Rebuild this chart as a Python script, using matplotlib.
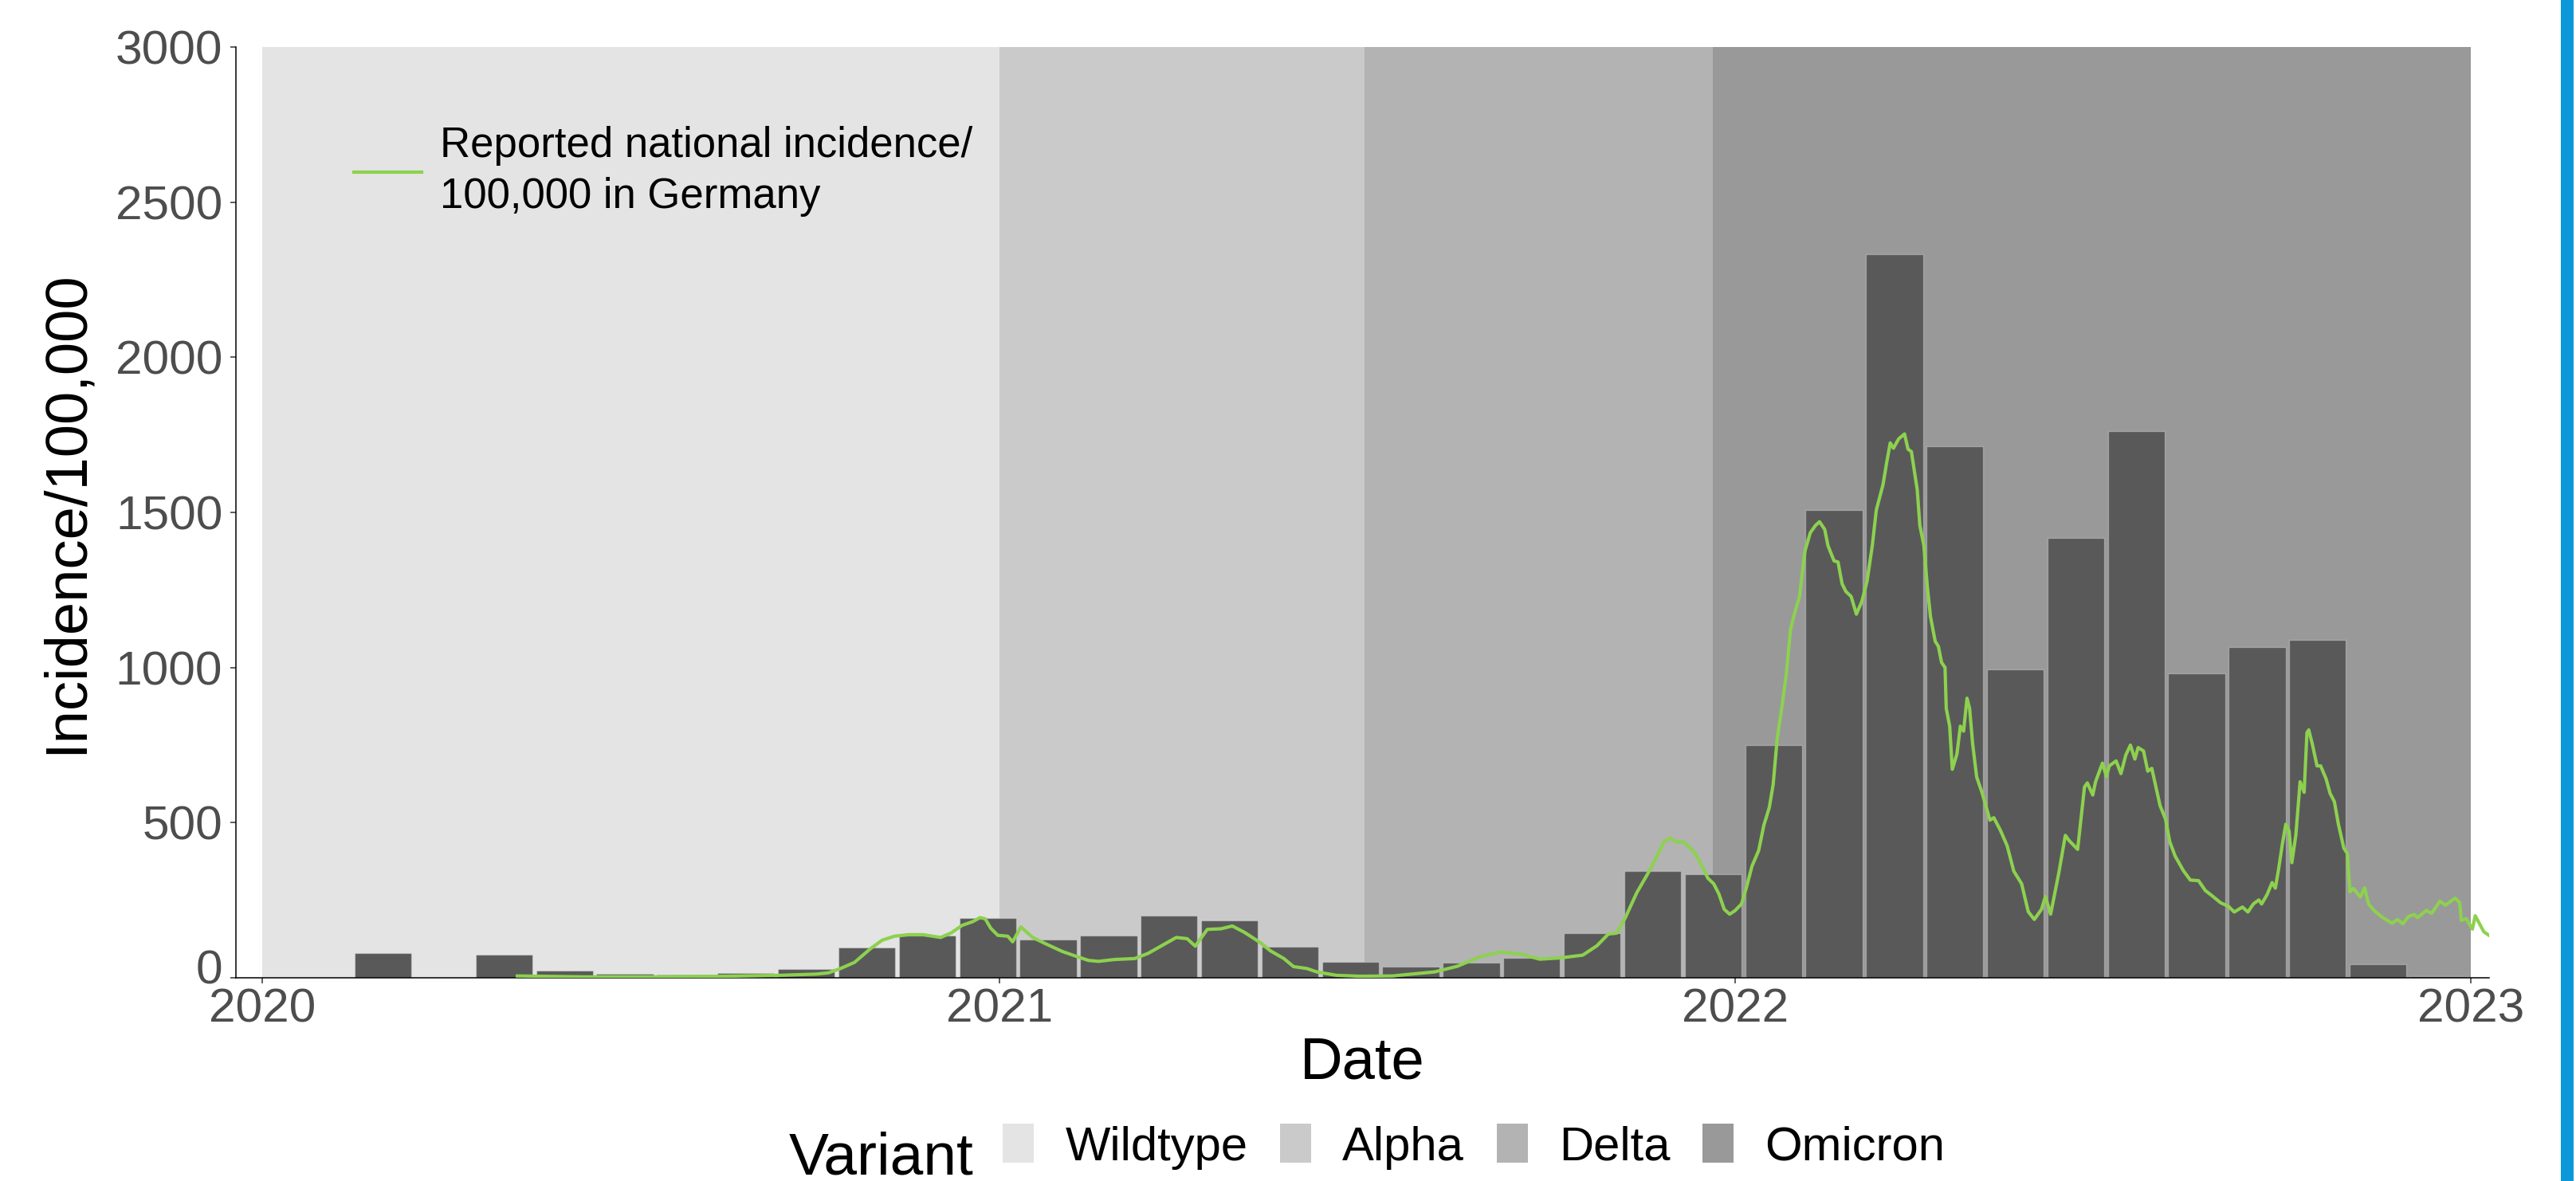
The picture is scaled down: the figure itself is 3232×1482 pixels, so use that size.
import numpy as np
import pandas as pd
import matplotlib
matplotlib.use('Agg')
import matplotlib.pyplot as plt
import matplotlib.dates as mdates
from matplotlib.patches import Patch, Rectangle
from matplotlib.transforms import ScaledTranslation

plt.rcParams['font.family'] = ['Liberation Sans', 'DejaVu Sans']

# variant periods (background shading)
variant_names = ['Wildtype', 'Alpha', 'Delta', 'Omicron']
variant_start = ['2020-01-01', '2021-01-01', '2021-07-01', '2021-12-21']
variant_end = ['2021-01-01', '2021-07-01', '2021-12-21', '2023-01-01']
variant_colors = ['#e4e4e4', '#cacaca', '#b3b3b3', '#999999']

# 30-day bins of incidence/100,000, first bin centred on 2020-01-01
bin_first = '2020-01-01'
bin_values = [0, 0, 80, 0, 75, 24, 14, 9, 15, 27,
              97, 137, 193, 123, 135, 200, 185, 100, 52, 37,
              50, 65, 145, 344, 334, 749, 1507, 2333, 1714, 995,
              1419, 1761, 981, 1067, 1090, 44, 6]

# reported national incidence (days since 2020-01-01, value)
inc_day = [126.6, 160, 195, 231, 257, 275, 281, 287, 294, 301.5,
           307.6, 313.7, 320.8, 327.9, 336.7, 342, 347.3, 352.6, 356.2, 358.8,
           361.5, 365, 370, 372.4, 376.5, 382.3, 389, 397, 403.6, 410,
           415, 423, 433, 439.7, 446, 453.6, 459, 463, 469, 475.8,
           481.4, 487.3, 495.4, 500.3, 507, 511.8, 518.4, 523.3, 533, 544.6,
           561, 581.8, 593, 604.4, 614.3, 624.2, 634, 644, 655.3, 662.3,
           668, 672.2, 676.4, 682.1, 687.8, 692, 695.5, 698.8, 701.9, 705.4,
           710.4, 713.2, 717.4, 720.3, 722.9, 725.5, 728.2, 730.8, 734.1, 736.7,
           739.3, 742.6, 745.2, 747.9, 749.8, 751.8, 754.4, 756.4, 758.4, 760.3,
           762.9, 765.6, 768.2, 770.8, 772.8, 775.4, 777, 780, 782, 784,
           785.9, 788.5, 791.1, 793.8, 796.4, 799, 801, 804.3, 806.2, 807.9,
           809.5, 812.1, 815, 816.7, 818.4, 821.3, 822.6, 824.6, 826.3, 827.9,
           830.2, 831.8, 833.4, 835.1, 835.7, 837.4, 838.7, 841, 842.7, 844.3,
           846, 847.3, 848.8, 850.8, 853.4, 857.4, 859.3, 862.6, 865.9, 869.2,
           873.1, 876.4, 879.4, 883, 884.9, 887.5, 891.5, 894.8, 896.7, 900.9,
           904.3, 905.7, 908.4, 909.8, 913.2, 915.2, 916.6, 920, 922.4, 924.8,
           927.1, 929.3, 930.9, 933.6, 935.7, 937.7, 941.8, 944.5, 946.6, 949.3,
           953.4, 956.8, 960.9, 964.3, 967.7, 971.8, 975.8, 978.6, 982.7, 985.4,
           988.1, 990.8, 992.2, 994.9, 997.4, 999, 1000.6, 1002.4, 1004.2, 1005.8,
           1007.2, 1009.2, 1011.3, 1013.3, 1014.7, 1015.6, 1017.4, 1019.7, 1021.5, 1024.2,
           1026.2, 1028.3, 1030.3, 1033, 1034.7, 1036, 1037.8, 1041.2, 1043.3, 1045.3,
           1048, 1052.1, 1056.9, 1059.6, 1062.3, 1065, 1067.8, 1069.6, 1073.9, 1076.6,
           1080.7, 1083.4, 1088.2, 1090.5, 1091.3, 1093.7, 1096.8, 1098.2, 1102.5, 1105]
inc_value = [6, 3, 3, 5, 8, 12, 16, 30, 50, 92,
             121, 134, 139, 139, 130, 145, 169, 181, 194, 190,
             160, 137, 134, 116, 164, 130, 109, 85, 70, 56,
             53, 59, 62, 79, 102, 130, 126, 102, 156, 158,
             167, 147, 113, 87, 62, 36, 30, 19, 8, 5,
             6, 19, 37, 68, 83, 77, 60, 64, 73, 103,
             141, 144, 193, 274, 338, 390, 438, 450, 438, 438,
             407, 377, 321, 303, 270, 221, 205, 216, 238, 295,
             360, 410, 492, 549, 623, 770, 885, 983, 1122, 1172,
             1229, 1376, 1434, 1458, 1470, 1445, 1393, 1344, 1340, 1270,
             1245, 1229, 1172, 1213, 1278, 1393, 1508, 1589, 1663, 1724,
             1707, 1737, 1753, 1704, 1696, 1573, 1458, 1393, 1262, 1163,
             1085, 1068, 1016, 1000, 868, 811, 672, 721, 811, 795,
             901, 868, 754, 647, 598, 508, 516, 475, 426, 344,
             303, 213, 188, 221, 262, 205, 336, 459, 442, 414,
             615, 628, 589, 632, 692, 649, 683, 699, 658, 718,
             750, 705, 742, 731, 666, 675, 555, 512, 439, 392,
             345, 315, 313, 281, 264, 242, 230, 212, 228, 212,
             238, 251, 238, 268, 307, 289, 349, 427, 495, 474,
             371, 461, 632, 598, 790, 799, 752, 683, 683, 641,
             594, 568, 495, 418, 401, 277, 288, 260, 290, 238,
             217, 195, 176, 188, 174, 197, 204, 194, 217, 208,
             247, 234, 257, 242, 185, 191, 157, 200, 148, 137]

W, H = 3232, 1482
fig = plt.figure(figsize=(W / 100, H / 100), dpi=100)
ax = fig.add_axes([296 / W, 1 - 1227 / H, (3123 - 296) / W, (1227 - 59) / H])

origin = mdates.date2num(pd.Timestamp('2020-01-01'))

for name, s, e, c in zip(variant_names, variant_start, variant_end, variant_colors):
    ax.axvspan(mdates.date2num(pd.Timestamp(s)), mdates.date2num(pd.Timestamp(e)),
               color=c, lw=0, zorder=0)

bin_centers = pd.date_range(bin_first, periods=len(bin_values), freq='30D')
ax.bar(mdates.date2num(bin_centers), bin_values, width=28.2, color='#595959',
       edgecolor=(1, 1, 1, 0.3), linewidth=1, zorder=2)

line_x = origin + np.array(inc_day)
ax.plot(line_x, inc_value, color='#8dd14f', lw=3.0, zorder=3,
        label='Reported national incidence/\n100,000 in Germany')

ax.set_xlim(origin - 13.05, origin + 1105.1)
ax.set_ylim(0, 3000)
ax.set_yticks(np.arange(0, 3001, 500))
ax.xaxis.set_major_locator(mdates.YearLocator())
ax.xaxis.set_major_formatter(mdates.DateFormatter('%Y'))

for sp in ['top', 'right']:
    ax.spines[sp].set_visible(False)
for sp in ['left', 'bottom']:
    ax.spines[sp].set_linewidth(1.1)
ax.tick_params(axis='both', labelsize=43.5, labelcolor='#4d4d4d', color='#333333',
               length=5, width=1.1)
ax.tick_params(axis='x', pad=4)
ax.tick_params(axis='y', pad=7)

# the "0" label sits a little higher in the original
zero_lbl = ax.yaxis.get_major_ticks()[0].label1
zero_lbl.set_transform(zero_lbl.get_transform() + ScaledTranslation(0, 0.14, fig.dpi_scale_trans))

ax.set_xlabel('Date', fontsize=53.5)
ax.set_ylabel('Incidence/100,000', fontsize=53.5)
ax.xaxis.set_label_coords(0.5, -0.062)
ax.yaxis.set_label_coords(-0.063, 0.5)

leg = ax.legend(loc='upper left', bbox_to_anchor=(0.0524, 0.915), frameon=False,
                fontsize=38, borderpad=0, borderaxespad=0, handlelength=1.6,
                handletextpad=0.45)
for t in leg.get_texts():
    t.set_linespacing(1.35)

# bottom legend for variants
fig.text(990 / W, 1 - 1473 / H, 'Variant', fontsize=54, va='baseline', ha='left')
handles = [Patch(facecolor=c, edgecolor='none') for c in variant_colors]
fig.legend(handles, variant_names, loc='center left',
           bbox_to_anchor=(1258 / W, 1 - 1439 / H), ncol=4, frameon=False,
           fontsize=43, borderpad=0, borderaxespad=0, handlelength=0.65,
           handleheight=0.88, handletextpad=0.66, columnspacing=0.68)

# blue bar at right edge
fig.patches.append(Rectangle((3213 / W, 0), 16 / W, 1, transform=fig.transFigure,
                             facecolor='#0a98d8', edgecolor='none'))

fig.savefig('out.png', dpi=100)
